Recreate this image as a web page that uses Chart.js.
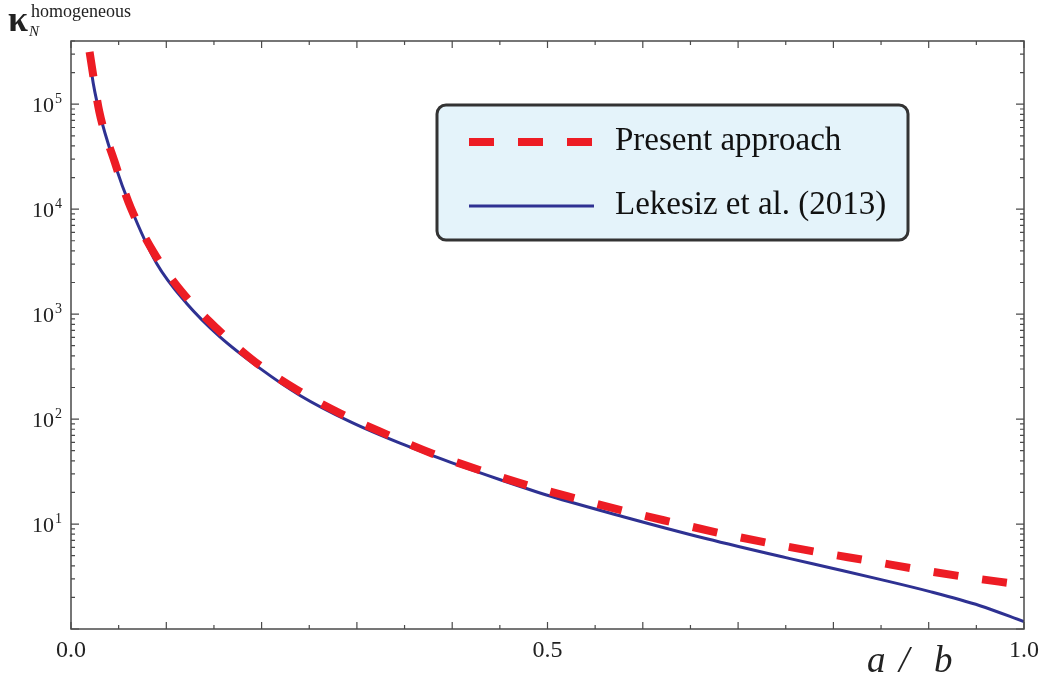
<!DOCTYPE html>
<html>
<head>
<meta charset="utf-8">
<script src="https://cdn.jsdelivr.net/npm/chart.js@4/dist/chart.umd.min.js"></script>
<style>
  html, body { margin: 0; padding: 0; background: #fff; }
  #wrap { width: 1050px; height: 680px; }
</style>
</head>
<body>
<div id="wrap"><canvas id="chart"></canvas></div>
<script>
"use strict";

// values (x = a/b, y = kappa_N)
const presentX = [0.0195, 0.0297, 0.0455, 0.0626, 0.0864, 0.1162, 0.1529, 0.1931, 0.2368, 0.2823, 0.3305, 0.3788, 0.4284, 0.4782, 0.5289, 0.5795, 0.6310, 0.6821, 0.7335, 0.7852, 0.8370, 0.8888, 0.9409, 0.9923, 1.0];
const presentY = [315000, 85000, 28800, 10380, 3920, 1630, 731, 351, 190.5, 113.5, 71.9, 47.1, 32.7, 23.5, 17.6, 13.4, 10.4, 8.15, 6.55, 5.37, 4.47, 3.70, 3.11, 2.68, 2.62];

const lekesizX = [0.0195, 0.0220, 0.0297, 0.0455, 0.0626, 0.0899, 0.1214, 0.1563, 0.1983, 0.2403, 0.2928, 0.3452, 0.3977, 0.4512, 0.5026, 0.5795, 0.6671, 0.7545, 0.7964, 0.8489, 0.9014, 0.9538, 1.0];
const lekesizY = [300000, 189000, 84500, 27600, 10380, 3040, 1265, 608, 304, 167.9, 94.4, 58.9, 38.9, 26.3, 18.5, 11.75, 7.24, 4.68, 3.83, 2.97, 2.27, 1.667, 1.175];

const xTicks = [0, 0.5, 1];
const xTickLabels = ["0.0", "0.5", "1.0"];
const yExponents = [1, 2, 3, 4, 5];

const SERIF = "'Liberation Serif', 'DejaVu Serif', serif";
const RED = "#ed1c24";
const BLUE = "#2e3192";

const toPoints = (xs, ys) => xs.map((x, i) => ({x: x, y: ys[i]}));

// frame with inward ticks on all four sides, y labels, titles, legend box
const decorPlugin = {
  id: "decor",
  afterDraw(chart) {
    const ctx = chart.ctx;
    const a = chart.chartArea;
    const x = chart.scales.x;
    const y = chart.scales.y;
    ctx.save();

    ctx.strokeStyle = "#4a4a4a";
    ctx.lineWidth = 1.5;
    ctx.strokeRect(a.left, a.top, a.right - a.left, a.bottom - a.top);

    ctx.lineWidth = 1.2;
    ctx.beginPath();
    for (let i = 0; i <= 20; i++) {
      const px = x.getPixelForValue(i * 0.05);
      const len = i % 2 === 0 ? 7 : 4;
      ctx.moveTo(px, a.bottom); ctx.lineTo(px, a.bottom - len);
      ctx.moveTo(px, a.top); ctx.lineTo(px, a.top + len);
    }
    for (let e = 0; e <= 5; e++) {
      for (let m = 1; m <= 9; m++) {
        const v = m * Math.pow(10, e);
        if (v > y.max) break;
        const py = y.getPixelForValue(v);
        const len = m === 1 ? 8 : 4;
        ctx.moveTo(a.left, py); ctx.lineTo(a.left + len, py);
        ctx.moveTo(a.right, py); ctx.lineTo(a.right - len, py);
      }
    }
    ctx.stroke();

    // y tick labels 10^n
    ctx.fillStyle = "#222";
    ctx.textBaseline = "alphabetic";
    yExponents.forEach((n) => {
      const py = y.getPixelForValue(Math.pow(10, n));
      ctx.font = "22px " + SERIF;
      const wBase = ctx.measureText("10").width;
      ctx.font = "14px " + SERIF;
      const wExp = ctx.measureText(String(n)).width;
      const right = a.left - 9;
      const left = right - wExp - 1 - wBase;
      ctx.font = "22px " + SERIF;
      ctx.textAlign = "left";
      ctx.fillText("10", left, py + 8);
      ctx.font = "14px " + SERIF;
      ctx.fillText(String(n), left + wBase + 1, py - 1);
    });

    // axis titles
    ctx.fillStyle = "#222";
    ctx.textAlign = "left";
    ctx.font = "italic 37px " + SERIF;
    ctx.fillText("a", 867, 672);
    ctx.fillText("/", 899, 672);
    ctx.fillText("b", 934, 672);

    ctx.font = "bold 36px " + SERIF;
    ctx.fillText("\u03ba", 8, 31);
    ctx.font = "18px " + SERIF;
    ctx.fillText("homogeneous", 31, 17);
    ctx.font = "italic 15px " + SERIF;
    ctx.fillText("N", 29, 36);

    // legend
    const ds = chart.data.datasets;
    ctx.beginPath();
    ctx.roundRect(437, 105, 471, 135, 9);
    ctx.fillStyle = "#e4f3fa";
    ctx.fill();
    ctx.lineWidth = 3;
    ctx.strokeStyle = "#333";
    ctx.stroke();

    const rows = [142, 206];
    ds.forEach((d, i) => {
      ctx.beginPath();
      ctx.setLineDash(d.borderDash || []);
      ctx.lineWidth = d.borderWidth;
      ctx.strokeStyle = d.borderColor;
      ctx.moveTo(469, rows[i]);
      ctx.lineTo(594, rows[i]);
      ctx.stroke();
      ctx.setLineDash([]);
      ctx.fillStyle = "#111";
      ctx.font = "33px " + SERIF;
      ctx.textAlign = "left";
      ctx.fillText(d.label, 615, rows[i] + 8);
    });

    ctx.restore();
  }
};

new Chart(document.getElementById("chart"), {
  type: "line",
  data: {
    datasets: [
      {
        label: "Present approach",
        data: toPoints(presentX, presentY),
        borderColor: RED,
        borderWidth: 8,
        borderDash: [25, 24],
        borderCapStyle: "butt",
        pointRadius: 0,
        fill: false,
        cubicInterpolationMode: "monotone"
      },
      {
        label: "Lekesiz et al. (2013)",
        data: toPoints(lekesizX, lekesizY),
        borderColor: BLUE,
        borderWidth: 3,
        pointRadius: 0,
        fill: false,
        cubicInterpolationMode: "monotone"
      }
    ]
  },
  options: {
    responsive: true,
    maintainAspectRatio: false,
    animation: false,
    layout: {padding: {top: 41, right: 26, left: 0, bottom: 0}},
    plugins: {
      legend: {display: false},
      tooltip: {enabled: false}
    },
    scales: {
      x: {
        type: "linear",
        min: 0,
        max: 1,
        grid: {display: false, drawTicks: false},
        border: {display: false},
        afterBuildTicks: (s) => { s.ticks = xTicks.map((v) => ({value: v})); },
        afterFit: (s) => { s.height = 51; },
        ticks: {
          padding: 7,
          color: "#222",
          font: {family: SERIF, size: 24},
          maxRotation: 0,
          callback: (v, i) => xTickLabels[i]
        }
      },
      y: {
        type: "logarithmic",
        min: 1,
        max: 400000,
        grid: {display: false, drawTicks: false},
        border: {display: false},
        afterFit: (s) => { s.width = 71; },
        ticks: {display: false}
      }
    }
  },
  plugins: [decorPlugin]
});
</script>
</body>
</html>
